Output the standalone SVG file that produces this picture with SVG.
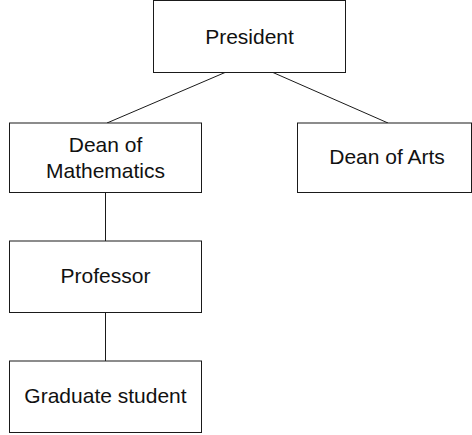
<svg xmlns="http://www.w3.org/2000/svg" width="472" height="435" viewBox="0 0 472 435">
  <style>
    .box { fill: #ffffff; stroke: #1a1a1a; stroke-width: 1; }
    .link { fill: none; stroke: #1a1a1a; stroke-width: 1; }
    .label { font-family: "Liberation Sans", Arial, sans-serif; font-size: 21px; fill: #111111; text-anchor: middle; }
  </style>
  <rect width="472" height="435" fill="#ffffff"/>

  <!-- connectors -->
  <g id="connectors">
    <line class="link" x1="225" y1="72.5" x2="107" y2="123"/>
    <line class="link" x1="273" y1="72.5" x2="388" y2="123"/>
    <line class="link" x1="105.5" y1="192.5" x2="105.5" y2="241"/>
    <line class="link" x1="105.5" y1="312.5" x2="105.5" y2="361"/>
  </g>

  <g id="president">
    <rect class="box" x="153.5" y="0.5" width="192" height="72"/>
    <text class="label" x="249.5" y="43.5">President</text>
  </g>

  <g id="dean-mathematics">
    <rect class="box" x="9.5" y="123" width="192" height="69.5"/>
    <text class="label" x="105.5" y="151.7">Dean of</text>
    <text class="label" x="105.5" y="178.3">Mathematics</text>
  </g>

  <g id="dean-arts">
    <rect class="box" x="297.5" y="123" width="174" height="69.5"/>
    <text class="label" x="387" y="164.3">Dean of Arts</text>
  </g>

  <g id="professor">
    <rect class="box" x="9.5" y="241" width="192" height="71.5"/>
    <text class="label" x="105.5" y="283">Professor</text>
  </g>

  <g id="graduate-student">
    <rect class="box" x="9.5" y="361" width="192" height="71.5"/>
    <text class="label" x="105.5" y="403">Graduate student</text>
  </g>
</svg>
